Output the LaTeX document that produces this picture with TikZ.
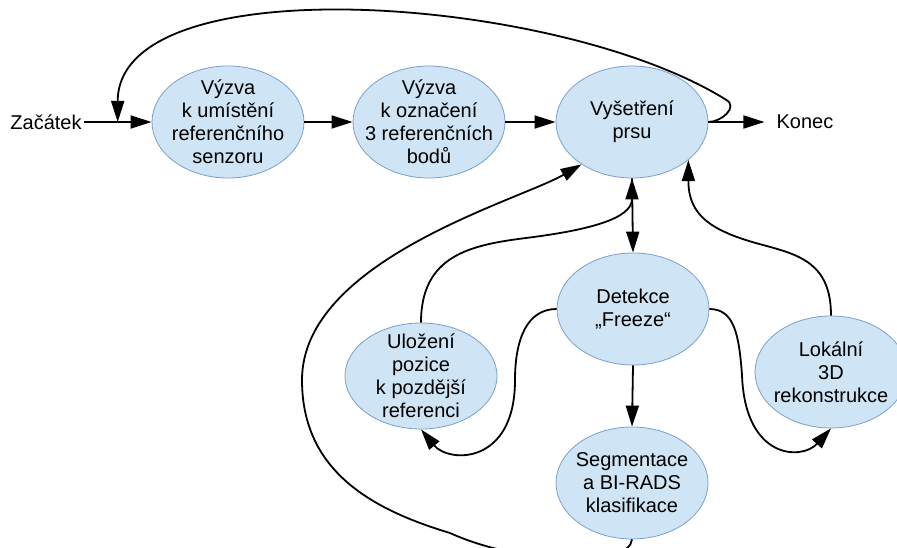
\documentclass[tikz,border=0pt]{standalone}
\usepackage{fontspec}
\setmainfont{Liberation Sans}
\usepackage{tikz}
\usetikzlibrary{
	arrows.meta,
	calc,
	shapes.geometric
}
\definecolor{PaleBlue}{RGB}{207,228,244}
\definecolor{EdgeBlue}{RGB}{120,160,205}

\begin{document}
\begin{tikzpicture}[x=1pt, y=-1pt,
		stav/.style={ellipse, draw=EdgeBlue, fill=PaleBlue, line width=0.8pt,
			minimum width=152pt, minimum height=112pt, inner sep=-20pt,
			align=center, font=\fontsize{20}{23}\selectfont},
		popis/.style={font=\fontsize{20}{23}\selectfont, inner sep=2pt},
		spoj/.style={line width=1.8pt, -{Triangle[length=21pt,width=13pt]}}]
			\useasboundingbox (0,0) rectangle (897,548);
			% horní řada
			\node[popis] (zac) at (46,122) {Začátek};
			\node[stav] (v1) at (228,122) {Výzva\\k umístění\\referenčního\\senzoru};
			\node[stav] (v2) at (429,122) {Výzva\\k označení\\3 referenčních\\bodů};
			\node[stav] (v3) at (632,122) {Vyšetření\\prsu};
			\node[popis, inner xsep=12pt] (konec) at (805,122) {Konec};
			% dolní část
			\node[stav] (d) at (633,309) {Detekce\\„Freeze“};
			\node[stav, minimum height=106pt] (u) at (421,376) {Uložení\\pozice\\k pozdější\\referenci};
			\node[stav] (l) at (831,372) {Lokální\\3D\\rekonstrukce};
			\node[stav] (s) at (632,483) {Segmentace\\a BI-RADS\\klasifikace};
			\coordinate (odbocka) at ($(zac.east)!0.5!(v1.west)$);
			\coordinate (hak) at ($(v3.east)+(18,-22)$);
			\coordinate (m1) at (526,238);
			\coordinate (m2) at (515,380);
			\coordinate (m3) at (742,375);
			\coordinate (m4) at (763,245);
			\coordinate (m5) at (450,533);
			\coordinate (m6) at (302,380);
			% spoje
			\draw[spoj] (zac.east) -- (v1.west);
			\draw[spoj] (v1.east) -- (v2.west);
			\draw[spoj] (v2.east) -- (v3.west);
			\draw[spoj] (v3.east) -- (konec.west);
			\draw[spoj] (v3.east) .. controls +(13,0) and +(12,7) .. (hak)
				.. controls +(-167,-105) and +(0,-158) .. (odbocka);
			\draw[spoj] (v3.south) -- (d.north);
			\draw[spoj] (d.south) -- (s.north);
			\draw[spoj] (u.north) .. controls +(0,-67) and +(-56,7) .. (m1)
				.. controls +(64,-8) and +(0,40) .. (v3.south);
			\draw[spoj] (d.west) .. controls +(-30,0) and +(0,-40) .. (m2)
				.. controls +(0,85) and +(28,34) .. (u.south);
			\draw[spoj] (d.east) .. controls +(25,0) and +(-3,-40) .. (m3)
				.. controls +(3,85) and +(-29,32) .. (l.south);
			\draw[spoj] (l.north) .. controls +(0,-52) and +(37,10) .. (m4)
				.. controls +(-53,-14) and +(0,55) .. (v3.-34);
			\draw[spoj] (s.south) .. controls +(-2,28) and +(70,32) .. (m5)
				.. controls +(-80,-24) and +(0,90) .. (m6)
				.. controls +(0,-120) and +(-62,36) .. (v3.-140);
		\end{tikzpicture}
\end{document}
